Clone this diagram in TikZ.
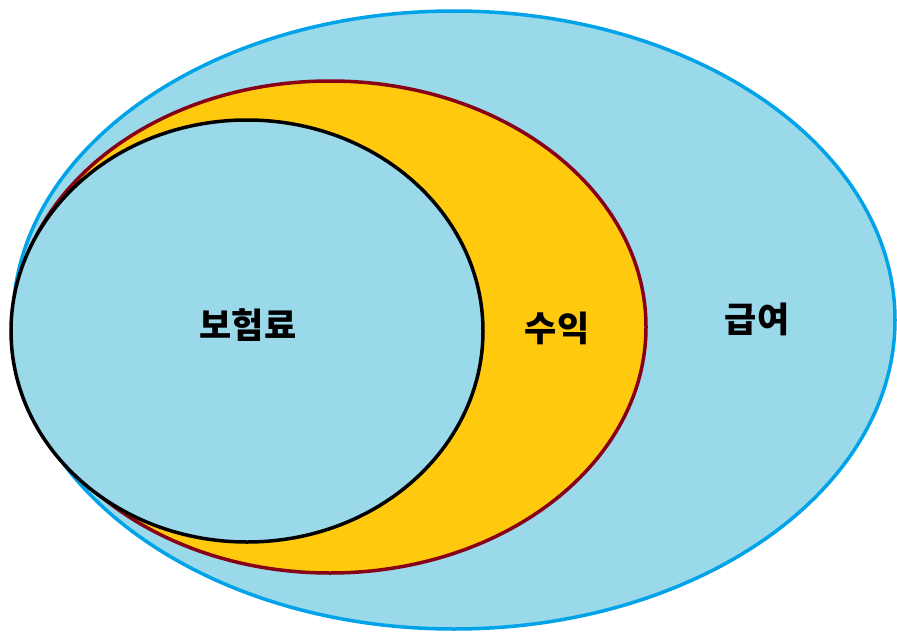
\documentclass[tikz,border=0pt]{standalone}
\usepackage{fontspec}
\newfontfamily\krfont{Noto Sans CJK KR}
\usepackage{tikz}
\usetikzlibrary{positioning}
\definecolor{skyfill}{HTML}{99D9EA}
\definecolor{skyline}{HTML}{00A2E8}
\definecolor{goldfill}{HTML}{FFC90E}
\definecolor{wineline}{HTML}{880015}

\begin{document}
\begin{tikzpicture}[x=1pt, y=-1pt, line width=3.5pt, every node/.style={font=\krfont\bfseries\fontsize{35}{40}\selectfont, inner sep=0pt}]
\useasboundingbox (0,0) rectangle (897,634);
\filldraw[fill=skyfill, draw=skyline] (454,320) ellipse [x radius=441, y radius=309];
\filldraw[fill=goldfill, draw=wineline] (330,327) ellipse [x radius=316, y radius=246];
\filldraw[fill=skyfill, draw=black] (247,331) ellipse [x radius=236, y radius=211];

\node (premium) at (248,325) {보험료};
\node (profit) at (557,328) {수익};
\node (benefit) at (757,319) {급여};
\end{tikzpicture}
\end{document}
